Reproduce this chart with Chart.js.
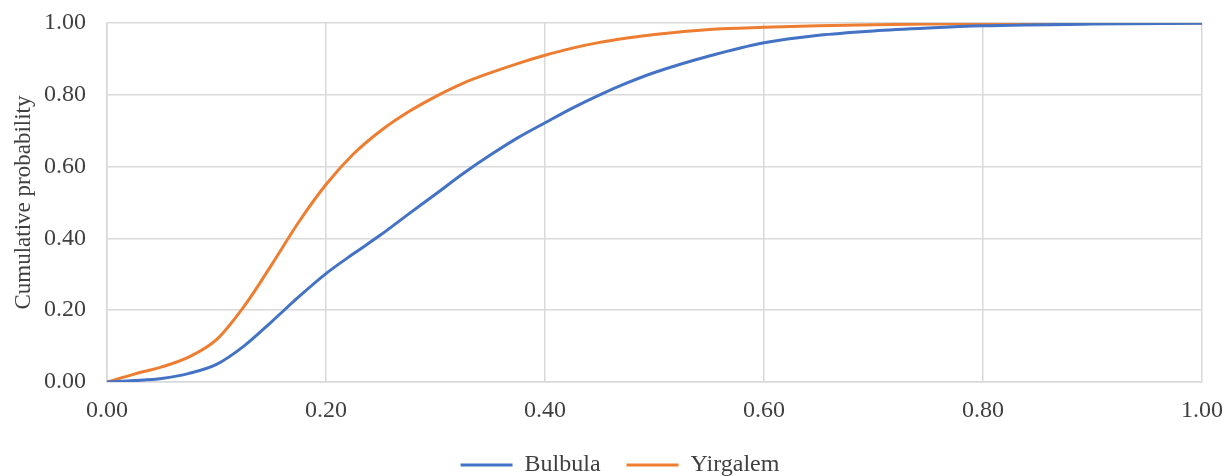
<!DOCTYPE html>
<html>
<head>
    <title>Cumulative probability</title>
    <script src="https://cdn.jsdelivr.net/npm/chart.js"></script>
    <style>
        body { margin: 0; background: #fff; }
    </style>
</head>
<body>
    <canvas id="cdfChart" width="1230" height="476"></canvas>

    <script>
        // values
        const xValues = [0, 0.025, 0.05, 0.075, 0.1, 0.125, 0.15, 0.175, 0.2, 0.225, 0.25, 0.275, 0.3, 0.325, 0.35, 0.375, 0.4, 0.425, 0.45, 0.475, 0.5, 0.55, 0.6, 0.65, 0.7, 0.75, 0.8, 0.9, 1.0];
        const bulbula = [0, 0.004, 0.01, 0.024, 0.049, 0.10, 0.167, 0.237, 0.302, 0.357, 0.41, 0.467, 0.523, 0.58, 0.632, 0.68, 0.722, 0.763, 0.80, 0.833, 0.862, 0.908, 0.945, 0.966, 0.978, 0.986, 0.992, 0.997, 0.999];
        const yirgalem = [0, 0.022, 0.042, 0.07, 0.118, 0.21, 0.325, 0.445, 0.55, 0.635, 0.70, 0.752, 0.795, 0.832, 0.861, 0.887, 0.91, 0.93, 0.946, 0.958, 0.968, 0.982, 0.988, 0.992, 0.995, 0.997, 0.998, 0.999, 1.0];
        const seriesNames = ['Bulbula', 'Yirgalem'];
        const tickStep = 0.2;

        const font = "'Liberation Serif', 'Times New Roman', serif";
        const textColor = '#404040';
        const gridColor = '#d9d9d9';

        function toPoints(ys) {
            return xValues.map((x, i) => ({ x: x, y: ys[i] }));
        }

        function makeDataset(label, ys, color) {
            return {
                label: label,
                data: toPoints(ys),
                borderColor: color,
                backgroundColor: color,
                borderWidth: 3,
                pointRadius: 0,
                cubicInterpolationMode: 'monotone',
                fill: false
            };
        }

        // nudge the legend to the right, where the reference has it
        const legendShift = {
            id: 'legendShift',
            afterLayout(chart) {
                chart.legend.left += 19;
                chart.legend.right += 19;
            }
        };

        const ctx = document.getElementById('cdfChart').getContext('2d');
        const chart = new Chart(ctx, {
            type: 'line',
            data: {
                datasets: [
                    makeDataset(seriesNames[0], bulbula, '#4472C4'),
                    makeDataset(seriesNames[1], yirgalem, '#ED7D31')
                ]
            },
            plugins: [legendShift],
            options: {
                responsive: false,
                animation: false,
                devicePixelRatio: 1,
                layout: { padding: { left: 0, right: 28, top: 23, bottom: -11 } },
                plugins: {
                    legend: {
                        position: 'bottom',
                        labels: {
                            usePointStyle: true,
                            pointStyle: 'line',
                            pointStyleWidth: 52,
                            boxHeight: 3,
                            padding: 26,
                            color: textColor,
                            font: { family: font, size: 24 }
                        }
                    },
                    tooltip: { enabled: false }
                },
                scales: {
                    x: {
                        type: 'linear',
                        min: 0,
                        max: 1,
                        afterFit: (scale) => { scale.height = 45; },
                        ticks: {
                            stepSize: tickStep,
                            padding: 0,
                            color: textColor,
                            font: { family: font, size: 24 },
                            callback: (v) => v.toFixed(2)
                        },
                        grid: { color: gridColor, lineWidth: 1.5, tickLength: 14, tickColor: 'transparent' },
                        border: { color: gridColor, width: 1.5 }
                    },
                    y: {
                        min: 0,
                        max: 1,
                        afterFit: (scale) => { scale.width = 107; },
                        ticks: {
                            stepSize: tickStep,
                            padding: 0,
                            color: textColor,
                            font: { family: font, size: 24 },
                            callback: (v) => v.toFixed(2)
                        },
                        title: {
                            display: true,
                            text: 'Cumulative probability',
                            color: textColor,
                            font: { family: font, size: 23 },
                            padding: { top: 10, bottom: 0 }
                        },
                        grid: { color: gridColor, lineWidth: 1.5, tickLength: 21, tickColor: 'transparent' },
                        border: { color: gridColor, width: 1.5 }
                    }
                }
            }
        });
    </script>
</body>
</html>
